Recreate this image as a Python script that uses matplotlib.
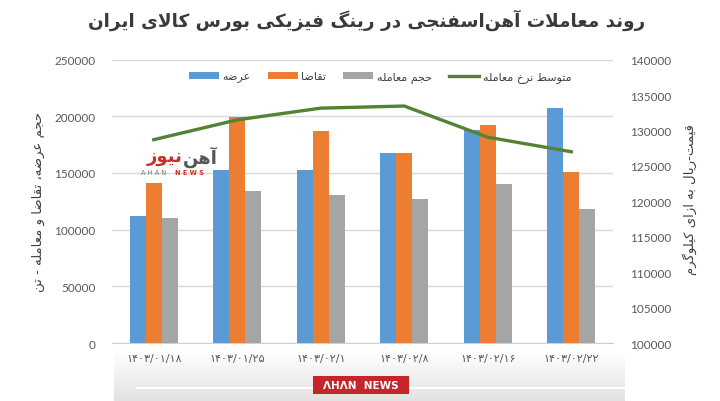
import numpy as np
import matplotlib
matplotlib.use("Agg")
import matplotlib.pyplot as plt
from matplotlib.patches import Rectangle
from matplotlib.colors import LinearSegmentedColormap

plt.rcParams['font.family'] = ['Lato', 'DejaVu Sans']

# ---------------- data ----------------
dates = ["۱۴۰۳/۰۱/۱۸", "۱۴۰۳/۰۱/۲۵", "۱۴۰۳/۰۲/۱", "۱۴۰۳/۰۲/۸", "۱۴۰۳/۰۲/۱۶", "۱۴۰۳/۰۲/۲۲"]
supply = [112000, 152500, 153000, 168000, 188000, 207000]
demand = [141000, 199000, 187000, 167500, 192500, 150500]
traded = [110500, 134000, 131000, 127000, 140000, 118000]
avg_price = [128700, 131500, 133150, 133450, 129050, 127000]

title_txt = "روند معاملات آهن\u200cاسفنجی در رینگ فیزیکی بورس کالای ایران"
lbl_supply = "عرضه"
lbl_demand = "تقاضا"
lbl_traded = "حجم معامله"
lbl_price = "متوسط نرخ معامله"
ylabel_left = "حجم عرضه، تقاضا و معامله - تن"
ylabel_right = "قیمت-ریال به ازای کیلوگرم"
wm_fa1 = "آهن"
wm_fa2 = "نیوز"

# ---------------- simple Arabic/Persian shaper ----------------
def _r(a, b):
    return (chr(a), chr(b), None, None)

def _d(a):
    return (chr(a), chr(a + 1), chr(a + 2), chr(a + 3))

FORMS = {
    'ا': _r(0xFE8D, 0xFE8E), 'آ': _r(0xFE81, 0xFE82), 'د': _r(0xFEA9, 0xFEAA),
    'ذ': _r(0xFEAB, 0xFEAC), 'ر': _r(0xFEAD, 0xFEAE), 'ز': _r(0xFEAF, 0xFEB0),
    'ژ': _r(0xFB8A, 0xFB8B), 'و': _r(0xFEED, 0xFEEE),
    'ب': _d(0xFE8F), 'پ': _d(0xFB56), 'ت': _d(0xFE95), 'ث': _d(0xFE99),
    'ج': _d(0xFE9D), 'چ': _d(0xFB7A), 'ح': _d(0xFEA1), 'خ': _d(0xFEA5),
    'س': _d(0xFEB1), 'ش': _d(0xFEB5), 'ص': _d(0xFEB9), 'ض': _d(0xFEBD),
    'ط': _d(0xFEC1), 'ظ': _d(0xFEC5), 'ع': _d(0xFEC9), 'غ': _d(0xFECD),
    'ف': _d(0xFED1), 'ق': _d(0xFED5), 'ک': _d(0xFB8E), 'گ': _d(0xFB92),
    'ل': _d(0xFEDD), 'م': _d(0xFEE1), 'ن': _d(0xFEE5), 'ه': _d(0xFEE9),
    'ی': _d(0xFBFC),
}

def _joins_next(c):
    return c in FORMS and FORMS[c][2] is not None

def shape(text):
    ch = list(text)
    n = len(ch)
    res = []
    i = 0
    while i < n:
        c = ch[i]
        if c not in FORMS:
            res.append(c)
            i += 1
            continue
        prev = ch[i - 1] if i > 0 else None
        cp = prev is not None and _joins_next(prev)
        if c == 'ل' and i + 1 < n and ch[i + 1] in ('ا', 'آ'):
            lig = ('\uFEFB', '\uFEFC') if ch[i + 1] == 'ا' else ('\uFEF5', '\uFEF6')
            res.append(lig[1] if cp else lig[0])
            i += 2
            continue
        nxt = ch[i + 1] if i + 1 < n else None
        cn = _joins_next(c) and nxt is not None and nxt in FORMS
        f = FORMS[c]
        if cp and cn:
            g = f[3]
        elif cp:
            g = f[1]
        elif cn:
            g = f[2]
        else:
            g = f[0]
        res.append(g)
        i += 1
    res = [r for r in res if r != '\u200c']
    return ''.join(reversed(res))

# ---------------- figure ----------------
W, H = 720, 402
fig = plt.figure(figsize=(W / 100, H / 100), dpi=100)
fig.patch.set_facecolor('white')

# background shading at the bottom
bg = fig.add_axes([0, 0, 1, 1], zorder=-5)
bg.set_xlim(0, W)
bg.set_ylim(H, 0)
bg.axis('off')
grad = np.linspace(0, 1, 60)[:, None] * np.ones((1, 10))
cm = LinearSegmentedColormap.from_list('g', ['#ffffff', '#e2e2e2'])
bg.imshow(grad, extent=[114, 625, 402, 352], cmap=cm, aspect='auto', zorder=0)
bg.plot([137, 625], [389, 389], color='white', lw=1.5, zorder=1)

ax = fig.add_axes([112 / W, 1 - 344.1 / H, (613 - 112) / W, (344.1 - 60.6) / H])
ax.set_facecolor('none')
ax2 = ax.twinx()

x = np.arange(len(dates))
bw = 0.19
c_blue, c_orange, c_gray, c_green = '#5b9bd5', '#ed7d31', '#a5a5a5', '#548235'
b1 = ax.bar(x - bw, supply, bw, color=c_blue, zorder=3, label=shape(lbl_supply))
b2 = ax.bar(x, demand, bw, color=c_orange, zorder=3, label=shape(lbl_demand))
b3 = ax.bar(x + bw, traded, bw, color=c_gray, zorder=3, label=shape(lbl_traded))
ln, = ax2.plot(x, avg_price, color=c_green, lw=2.4, zorder=4, label=shape(lbl_price))

ax.set_xlim(-0.5, len(dates) - 0.5)
ax.set_ylim(0, 250000)
ax.set_yticks(np.arange(0, 250001, 50000))
ax2.set_ylim(100000, 140000)
ax2.set_yticks(np.arange(100000, 140001, 5000))

ax.grid(axis='y', color='#d9d9d9', lw=1, zorder=0)
ax.set_axisbelow(True)
for a in (ax, ax2):
    for s in a.spines.values():
        s.set_visible(False)
    a.tick_params(length=0, colors='#595959', labelsize=8.5)
ax.spines['bottom'].set_visible(True)
ax.spines['bottom'].set_color('#d0d0d0')
ax.set_xticks(x)
ax.set_xticklabels(dates, fontsize=8, family=['DejaVu Sans'])
ax.tick_params(axis='x', pad=7)
ax.tick_params(axis='y', pad=12)
ax2.tick_params(axis='y', pad=12)

# axis titles
fig.text(38 / W, 1 - 202 / H, shape(ylabel_left), rotation=90, ha='center', va='center',
         fontsize=9.5, color='#404040', family=['DejaVu Sans'])
fig.text(690 / W, 1 - 200 / H, shape(ylabel_right), rotation=90, ha='center', va='center',
         fontsize=9.5, color='#404040', family=['DejaVu Sans'])

# title
fig.text(367 / W, 1 - 20 / H, shape(title_txt), ha='center', va='center',
         fontsize=13.2, fontweight='bold', color='#3a3a3a', family=['DejaVu Sans'])

# legend
leg = ax.legend(handles=[b1, b2, b3, ln], ncol=4, loc='center',
                bbox_to_anchor=((380 - 112) / (613 - 112), 1 - (78 - 60.6) / (344.1 - 60.6)),
                frameon=False, handlelength=2.7, handleheight=0.5,
                columnspacing=1.5, handletextpad=0.35,
                prop={'family': ['DejaVu Sans'], 'size': 8})
for t in leg.get_texts():
    t.set_color('#404040')

# watermark logo
fig.text(183 / W, 1 - 157 / H, shape(wm_fa2), ha='right', va='center', fontsize=13,
         fontweight='bold', color='#c9302c', family=['DejaVu Sans'], zorder=10)
fig.text(183 / W, 1 - 157 / H, shape(wm_fa1), ha='left', va='center', fontsize=13,
         fontweight='bold', color='#555555', family=['DejaVu Sans'], zorder=10)
fig.text(141 / W, 1 - 173 / H, "A H A N", ha='left', va='center', fontsize=4.8,
         color='#777777', family=['DejaVu Sans'], zorder=10)
fig.text(204 / W, 1 - 173 / H, "N E W S", ha='right', va='center', fontsize=4.8,
         fontweight='bold', color='#c9302c', family=['DejaVu Sans'], zorder=10)

# bottom logo
bg.add_patch(Rectangle((313, 377), 96, 18, facecolor='#c6252b', edgecolor='none', zorder=3))
bg.text(361, 386.5, "ΛHΛN  NEWS", ha='center', va='center', fontsize=7.5, fontweight='bold',
        color='white', family=['DejaVu Sans'], zorder=4)

fig.savefig('out.png', dpi=100, facecolor=fig.get_facecolor())
